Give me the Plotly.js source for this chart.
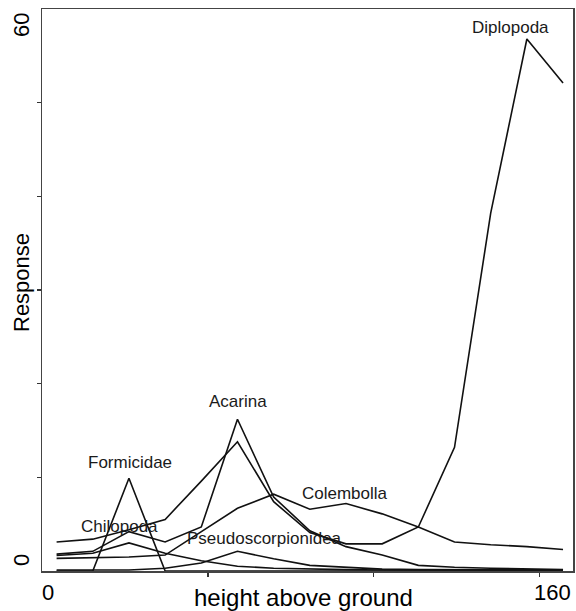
<!DOCTYPE html>
<html>
<head>
<meta charset="utf-8">
<script src="https://cdn.plot.ly/plotly-3.0.1.min.js"></script>
<style>html,body{margin:0;padding:0;background:#fff;}#chart{width:576px;height:611px;}</style>
</head>
<body>
<div id="chart"></div>
<script>
// heights above ground (x)
const heights = [4.4, 15.3, 26.2, 37.1, 48.0, 58.9, 69.8, 80.7, 91.6, 102.5, 113.4, 124.3, 135.2, 146.1, 157.0];
// responses per taxon
const diplopoda          = [3.1, 3.4, 4.4, 5.5, 9.6, 13.8, 7.4, 4.1, 2.9, 2.9, 4.7, 13.2, 38.2, 56.8, 52.1];
const acarina            = [1.8, 2.1, 4.2, 3.1, 4.7, 16.2, 7.9, 4.3, 2.6, 1.7, 0.6, 0.4, 0.3, 0.2, 0.15];
const formicidae         = [0, 0, 9.9, 0, 0, 0, 0, 0, 0, 0, 0, 0, 0, 0, 0];
const chilopoda          = [1.65, 1.9, 3.0, 1.9, 1.1, 0.5, 0.3, 0.2, 0.15, 0.1, 0.1, 0.1, 0.1, 0.1, 0.1];
const pseudoscorpionidea = [0.1, 0.1, 0.1, 0.3, 0.85, 2.1, 1.3, 0.6, 0.4, 0.2, 0.15, 0.15, 0.1, 0.1, 0.1];
const colembolla         = [1.35, 1.4, 1.5, 1.7, 4.2, 6.7, 8.2, 6.6, 7.2, 6.1, 4.7, 3.1, 2.8, 2.6, 2.3];

const seriesNames = ['Diplopoda', 'Acarina', 'Formicidae', 'Chilopoda', 'Pseudoscorpionidea', 'Colembolla'];
const seriesValues = [diplopoda, acarina, formicidae, chilopoda, pseudoscorpionidea, colembolla];

const xTickLabels = ['0', '160'];
const yTickLabels = ['0', '60'];
const xTitle = 'height above ground';
const yTitle = 'Response';

const font = 'Liberation Sans, Arial, sans-serif';
const ink = '#111';

const traces = seriesValues.map((vals, i) => ({
  type: 'scatter', mode: 'lines', name: seriesNames[i],
  x: heights, y: vals,
  line: {color: ink, width: 1.6},
  hoverinfo: 'skip'
}));

// plot area in pixels
const L = 42, R = 573, T = 9, B = 571;
function P(px, py) { return {x: (px - L) / (R - L), y: (B - py) / (B - T)}; }

const labelPos = {
  'Diplopoda': [141.1, 58.0],
  'Acarina': [59.0, 18.1],
  'Formicidae': [26.4, 11.6],
  'Chilopoda': [23.4, 4.8],
  'Pseudoscorpionidea': [67.1, 3.5],
  'Colembolla': [91.3, 8.3]
};

const annotations = [];
seriesNames.forEach(n => {
  annotations.push({
    x: labelPos[n][0], y: labelPos[n][1], xref: 'x', yref: 'y',
    text: n, showarrow: false, xanchor: 'center', yanchor: 'middle',
    font: {family: font, size: 17, color: '#1a1a1a'}
  });
});

function paperText(txt, px, py, size, angle) {
  const p = P(px, py);
  annotations.push({
    x: p.x, y: p.y, xref: 'paper', yref: 'paper', text: txt, showarrow: false,
    xanchor: 'center', yanchor: 'middle', textangle: angle || 0,
    font: {family: font, size: size, color: '#000'}
  });
}
paperText(xTickLabels[0], 48, 592, 22);
paperText(xTickLabels[1], 552, 592, 22);
paperText(yTickLabels[0], 21, 560, 22, -90);
paperText(yTickLabels[1], 21, 25, 22, -90);
paperText(xTitle, 303, 597, 24);
paperText(yTitle, 21, 283, 22, -90);

const layout = {
  width: 576, height: 611,
  margin: {l: L, r: 576 - R, t: T, b: 611 - B, pad: 0},
  paper_bgcolor: '#fff', plot_bgcolor: '#fff',
  showlegend: false,
  xaxis: {
    range: [0, 160], showgrid: false, zeroline: false,
    showline: true, mirror: true, linecolor: '#444', linewidth: 1.5,
    ticks: 'outside', tickvals: [50, 100, 150], ticklen: 4, tickwidth: 1.2, tickcolor: '#333',
    showticklabels: false, fixedrange: true
  },
  yaxis: {
    range: [0, 60], showgrid: false, zeroline: false,
    showline: true, mirror: true, linecolor: '#444', linewidth: 1.5,
    ticks: 'outside', tickvals: [10, 20, 30, 40, 50], ticklen: 4, tickwidth: 1.2, tickcolor: '#333',
    showticklabels: false, fixedrange: true
  },
  annotations: annotations
};

Plotly.newPlot('chart', traces, layout, {staticPlot: true, displayModeBar: false});
</script>
</body>
</html>
